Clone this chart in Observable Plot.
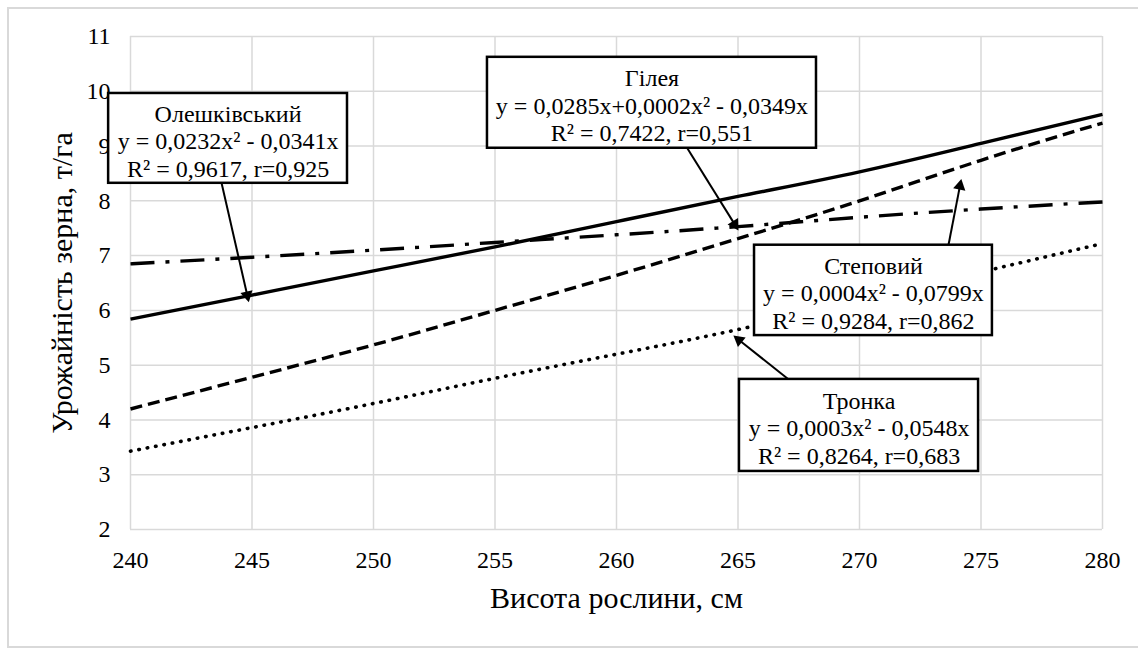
<!DOCTYPE html>
<html>
<head>
<meta charset="utf-8">
<script src="https://cdn.jsdelivr.net/npm/d3@7"></script>
<script src="https://cdn.jsdelivr.net/npm/@observablehq/plot@0.6"></script>
<style>
  body { margin: 0; background: #fff; }
  #wrap { position: relative; width: 1138px; height: 648px; overflow: hidden; background: #fff; }
  #border { position: absolute; left: 7px; top: 7px; width: 1160px; height: 641px; box-sizing: border-box; border: 2px solid #d9d9d9; pointer-events: none; }
  #chart text { font-family: "Liberation Serif", "Times New Roman", serif; }
</style>
</head>
<body>
<div id="wrap"><div id="chart"></div><div id="border"></div></div>
<script>
// ---- data ----
const heights = [240, 245, 250, 255, 260, 265, 270, 275, 280];
const oleshkivskyi = [5.84, 6.28, 6.72, 7.16, 7.62, 8.08, 8.53, 9.05, 9.58];
const hileya       = [6.85, 6.97, 7.10, 7.24, 7.38, 7.53, 7.70, 7.85, 7.98];
const stepovyi     = [4.20, 4.78, 5.37, 6.00, 6.64, 7.31, 8.00, 8.74, 9.42];
const tronka       = [3.43, 3.86, 4.30, 4.76, 5.20, 5.65, 6.17, 6.70, 7.22];

const xTicks = [240, 245, 250, 255, 260, 265, 270, 275, 280];
const yTicks = [2, 3, 4, 5, 6, 7, 8, 9, 10, 11];

const xTitle = "Висота рослини, см";
const yTitle = "Урожайність зерна, т/га";

const labelNames = ["Олешківський", "Гілея", "Степовий", "Тронка"];
const labelEquations = [
  "y = 0,0232x² - 0,0341x",
  "y = 0,0285x+0,0002x² - 0,0349x",
  "y = 0,0004x² - 0,0799x",
  "y = 0,0003x² - 0,0548x"
];
const labelStats = [
  "R² = 0,9617, r=0,925",
  "R² = 0,7422, r=0,551",
  "R² = 0,9284, r=0,862",
  "R² = 0,8264, r=0,683"
];

// ---- layout (annotation boxes & arrows, in data units) ----
const boxes = [
  {x1: 239.10, x2: 248.93, y1: 9.96, y2: 8.32},
  {x1: 254.69, x2: 268.23, y1: 10.62, y2: 8.96},
  {x1: 265.68, x2: 275.47, y1: 7.19, y2: 5.54},
  {x1: 265.06, x2: 274.90, y1: 4.74, y2: 3.06}
];
const arrows = [
  {x1: 243.74, y1: 8.34, x2: 244.87, y2: 6.15},
  {x1: 262.76, y1: 9.07, x2: 265.02, y2: 7.46},
  {x1: 273.66, y1: 7.19, x2: 274.19, y2: 8.40},
  {x1: 267.28, y1: 4.67, x2: 264.81, y2: 5.54}
];

// ---- styles ----
const serif = "'Liberation Serif', 'Times New Roman', serif";
const seriesList = [oleshkivskyi, hileya, stepovyi, tronka];
const seriesStyles = [
  {strokeWidth: 3.4, strokeDasharray: null, strokeLinecap: "butt"},
  {strokeWidth: 3.4, strokeDasharray: "24 11 4 11", strokeLinecap: "butt"},
  {strokeWidth: 3.4, strokeDasharray: "12 6", strokeLinecap: "butt"},
  {strokeWidth: 3.6, strokeDasharray: "0.5 8", strokeLinecap: "round"}
];

const table = seriesList.map(s => heights.map((h, i) => ({x: h, y: s[i]})));
const annotations = labelNames.map((n, i) => ({
  text: [n, labelEquations[i], labelStats[i]].join("\n"),
  ...boxes[i]
}));

const base = {
  width: 1138,
  height: 648,
  marginLeft: 130,
  marginRight: 36,
  marginTop: 36,
  marginBottom: 119,
  x: {domain: [240, 280]},
  y: {domain: [2, 11]},
  style: {fontFamily: serif, fontSize: "24px", color: "#000", background: "transparent"}
};

const lineMarks = table.map((rows, i) => Plot.line(rows, {
  x: "x", y: "y", curve: "natural", stroke: "black",
  strokeWidth: seriesStyles[i].strokeWidth,
  strokeDasharray: seriesStyles[i].strokeDasharray,
  strokeLinecap: seriesStyles[i].strokeLinecap
}));

// probe pass to obtain Plot's own scales for arrow-head orientation
const probe = Plot.plot({...base, marks: [Plot.gridX(xTicks), Plot.gridY(yTicks), ...lineMarks]});
const sx = probe.scale("x"), sy = probe.scale("y");
const headR = 4.6;
const tipDist = 2 * Math.sqrt(Math.PI * headR * headR / (3 * Math.sqrt(3)));
const arrowGeom = arrows.map(a => {
  const p1 = [sx.apply(a.x1), sy.apply(a.y1)];
  const p2 = [sx.apply(a.x2), sy.apply(a.y2)];
  const dx = p2[0] - p1[0], dy = p2[1] - p1[1];
  const len = Math.hypot(dx, dy);
  const ux = dx / len, uy = dy / len;
  const lineEnd = [p2[0] - ux * (tipDist + 2), p2[1] - uy * (tipDist + 2)];
  const cen = [p2[0] - ux * tipDist, p2[1] - uy * tipDist];
  return {
    lx1: a.x1, ly1: a.y1,
    lx2: sx.invert(lineEnd[0]), ly2: sy.invert(lineEnd[1]),
    hx: sx.invert(cen[0]), hy: sy.invert(cen[1]),
    angle: Math.atan2(ux, -uy) * 180 / Math.PI
  };
});

const chart = Plot.plot({
  ...base,
  marks: [
    Plot.gridX(xTicks, {stroke: "#d9d9d9", strokeOpacity: 1, strokeWidth: 1.5}),
    Plot.gridY(yTicks, {stroke: "#d9d9d9", strokeOpacity: 1, strokeWidth: 1.5}),
    Plot.axisX(xTicks, {tickSize: 0, tickPadding: 21, label: null, tickFormat: d => String(d), fontFamily: serif, fontSize: 24, fill: "black"}),
    Plot.axisY(yTicks, {tickSize: 0, tickPadding: 20, label: null, tickFormat: d => String(d), fontFamily: serif, fontSize: 24, fill: "black"}),
    ...lineMarks,
    Plot.link(arrowGeom, {x1: "lx1", y1: "ly1", x2: "lx2", y2: "ly2", stroke: "black", strokeWidth: 2}),
    Plot.dot(arrowGeom, {x: "hx", y: "hy", symbol: "triangle", r: headR, fill: "black", stroke: "none", rotate: "angle"}),
    Plot.rect(annotations, {x1: "x1", x2: "x2", y1: "y1", y2: "y2", fill: "white", stroke: "black", strokeWidth: 2.5}),
    Plot.text(annotations, {x: d => (d.x1 + d.x2) / 2, y: d => (d.y1 + d.y2) / 2, text: "text", lineHeight: 1.15, dy: 2, fontSize: 24, fontFamily: serif, fill: "black"}),
    Plot.text([xTitle], {text: d => d, frameAnchor: "bottom", textAnchor: "middle", lineAnchor: "middle", dy: 69, fontSize: 30, fontFamily: serif, fill: "black"}),
    Plot.text([yTitle], {text: d => d, frameAnchor: "left", textAnchor: "middle", lineAnchor: "middle", rotate: -90, dx: -68, fontSize: 30, fontFamily: serif, fill: "black"})
  ]
});
document.getElementById("chart").appendChild(chart);
</script>
</body>
</html>
